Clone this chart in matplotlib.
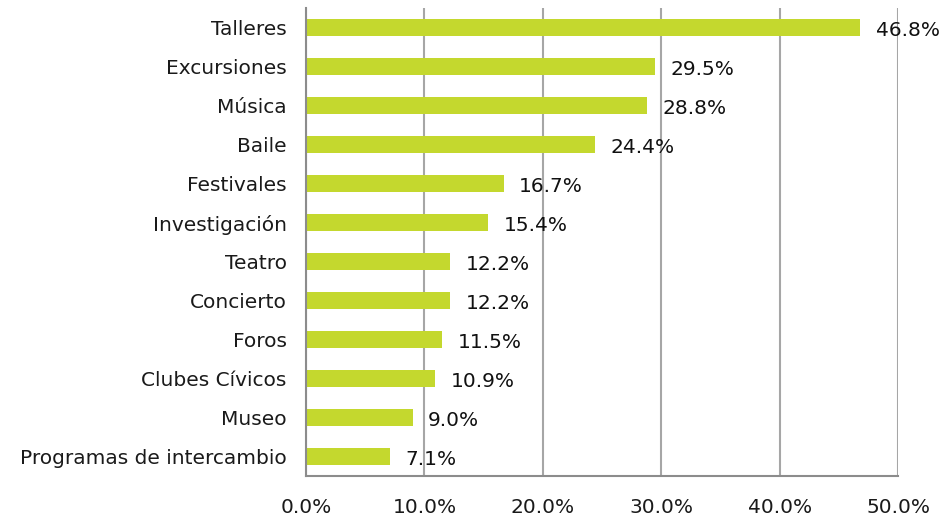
import matplotlib.pyplot as plt
from matplotlib.ticker import FuncFormatter

# Actividades preferidas (% de respuestas)
categorias = ["Talleres", "Excursiones", "Música", "Baile", "Festivales",
              "Investigación", "Teatro", "Concierto", "Foros",
              "Clubes Cívicos", "Museo", "Programas de intercambio"]
porcentajes = [46.8, 29.5, 28.8, 24.4, 16.7, 15.4, 12.2, 12.2, 11.5, 10.9, 9.0, 7.1]
ticks_x = [0, 10, 20, 30, 40, 50]

plt.rcParams["font.family"] = ["DejaVu Sans"]

fig = plt.figure(figsize=(9.43, 5.23), dpi=100)
ax = fig.add_axes([306 / 943, 1 - 476 / 523, 592 / 943, 468 / 523])

pos = list(range(len(categorias)))
ax.barh(pos, porcentajes, height=0.44, color="#c4d82e", zorder=3)

for y, v in zip(pos, porcentajes):
    ax.text(v + 1.3, y + 0.07, f"{v:.1f}%", va="center", ha="left",
            fontsize=14.5, color="#111111", zorder=4)

ax.set_ylim(len(categorias) - 0.5, -0.5)
ax.set_xlim(0, 50)
ax.set_yticks(pos)
ax.set_yticklabels(categorias, fontsize=14.5, color="#1a1a1a")
ax.set_xticks(ticks_x)
ax.xaxis.set_major_formatter(FuncFormatter(lambda v, _: f"{v:.1f}%"))
ax.tick_params(axis="x", length=0, pad=16, labelsize=14.5, labelcolor="#1a1a1a")
ax.tick_params(axis="y", length=0, pad=14)

ax.grid(axis="x", color="#a6a6a6", linewidth=1.5, zorder=0)
for s in ["top", "right"]:
    ax.spines[s].set_visible(False)
for s in ["left", "bottom"]:
    ax.spines[s].set_color("#8c8c8c")
    ax.spines[s].set_linewidth(1.5)
    ax.spines[s].set_zorder(5)

fig.savefig("out.png", dpi=100, facecolor="white")
